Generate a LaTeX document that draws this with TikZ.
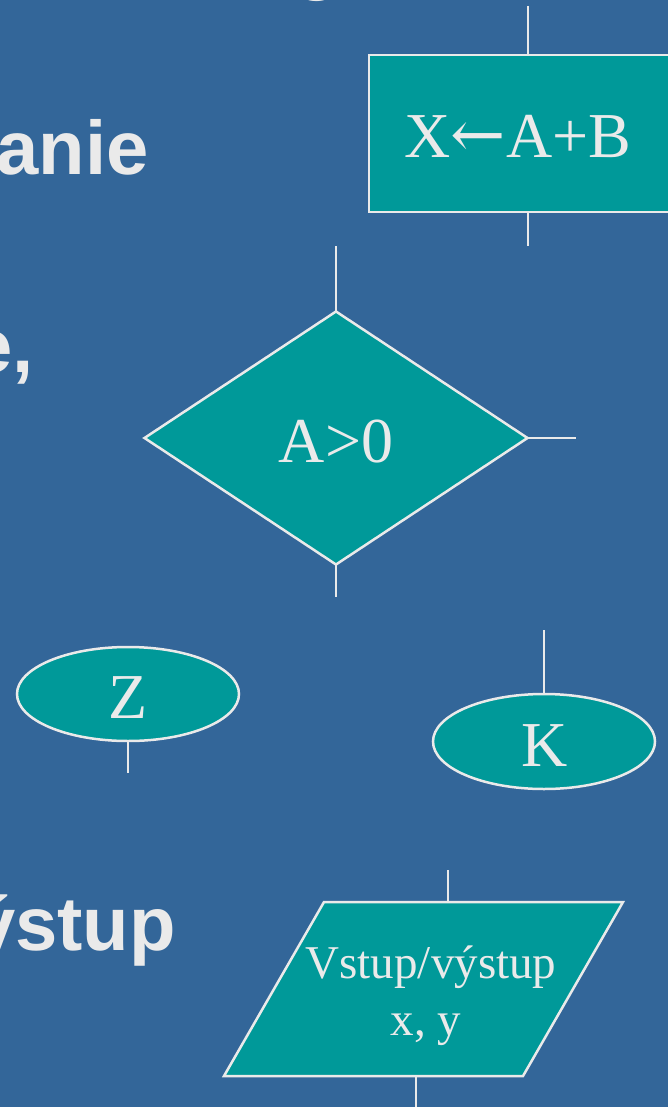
\documentclass[tikz,border=0pt]{standalone}
\usepackage{fontspec}
\setmainfont{Liberation Serif}
\newfontfamily\headfont{Liberation Sans}
\newfontfamily\arrowfont{DejaVu Serif}
\usetikzlibrary{shapes.geometric}
\definecolor{bgblue}{HTML}{336699}
\definecolor{tealfill}{HTML}{009999}
\definecolor{ink}{HTML}{EAEAEA}
\begin{document}
\begin{tikzpicture}[x=1pt,y=-1pt,
  shp/.style={draw=ink, fill=tealfill, line width=2.5pt, inner sep=0pt, outer sep=0pt},
  wire/.style={draw=ink, line width=2.5pt},
  lbl/.style={text=ink, inner sep=0pt, font=\fontsize{64}{64}\selectfont, anchor=base},
  iolbl/.style={text=ink, inner sep=0pt, font=\fontsize{47}{57}\selectfont, anchor=base},
  head/.style={text=ink, inner sep=0pt, font=\headfont\bfseries\fontsize{76}{76}\selectfont, anchor=base east}]
\fill[bgblue] (0,0) rectangle (668,1107);
\useasboundingbox (0,0) rectangle (668,1107);

% left heading fragments
\node[head, anchor=base] (hg) at (318,-14.5) {g};
\node[head] (h1) at (149,175) {anie};
\node[head] (h2) at (34,372) {e,};
\node[head] (h3) at (176,950) {ýstup};

% assignment box
\node[shp, rectangle, minimum width=318pt, minimum height=157pt] (asg) at (528,133.5) {};
\node[lbl] (asgt) at (518,158) {X{\arrowfont\fontsize{66}{66}\selectfont ←}A+B};
\coordinate (asgin) at (528,6);
\coordinate (asgout) at (528,246);
\draw[wire] (asgin) -- (asg.north);
\draw[wire] (asg.south) -- (asgout);

% decision
\node[shp, diamond, minimum width=383pt, minimum height=253pt] (dec) at (336,438) {};
\node[lbl] (dect) at (336,462) {A>0};
\coordinate (decin) at (336,246);
\coordinate (decout) at (336,597);
\coordinate (decside) at (576,438);
\draw[wire] (decin) -- (dec.north);
\draw[wire] (dec.south) -- (decout);
\draw[wire] (dec.east) -- (decside);

% start
\node[shp, ellipse, minimum width=222pt, minimum height=94pt] (start) at (128,694) {};
\node[lbl] (startt) at (128,718) {Z};
\coordinate (startout) at (128,773);
\draw[wire] (start.south) -- (startout);

% end
\node[shp, ellipse, minimum width=222pt, minimum height=95pt] (stop) at (544,741.5) {};
\node[lbl] (stopt) at (545,766) {K};
\coordinate (stopin) at (544,630);
\draw[wire] (stopin) -- (stop.north);

% input/output
\coordinate (p1) at (224,1076);
\coordinate (p2) at (324,902);
\coordinate (p3) at (623,902);
\coordinate (p4) at (523,1076);
\path[shp] (p1) -- (p2) -- (p3) -- (p4) -- cycle;
\node[iolbl] (io1) at (431,978) {Vstup/výstup};
\node[iolbl] (io2) at (426,1035) {x, y};
\coordinate (iotop) at (448,902);
\coordinate (ioin) at (448,870);
\coordinate (iobot) at (416,1076);
\coordinate (ioout) at (416,1110);
\draw[wire] (ioin) -- (iotop);
\draw[wire] (iobot) -- (ioout);
\end{tikzpicture}
\end{document}
